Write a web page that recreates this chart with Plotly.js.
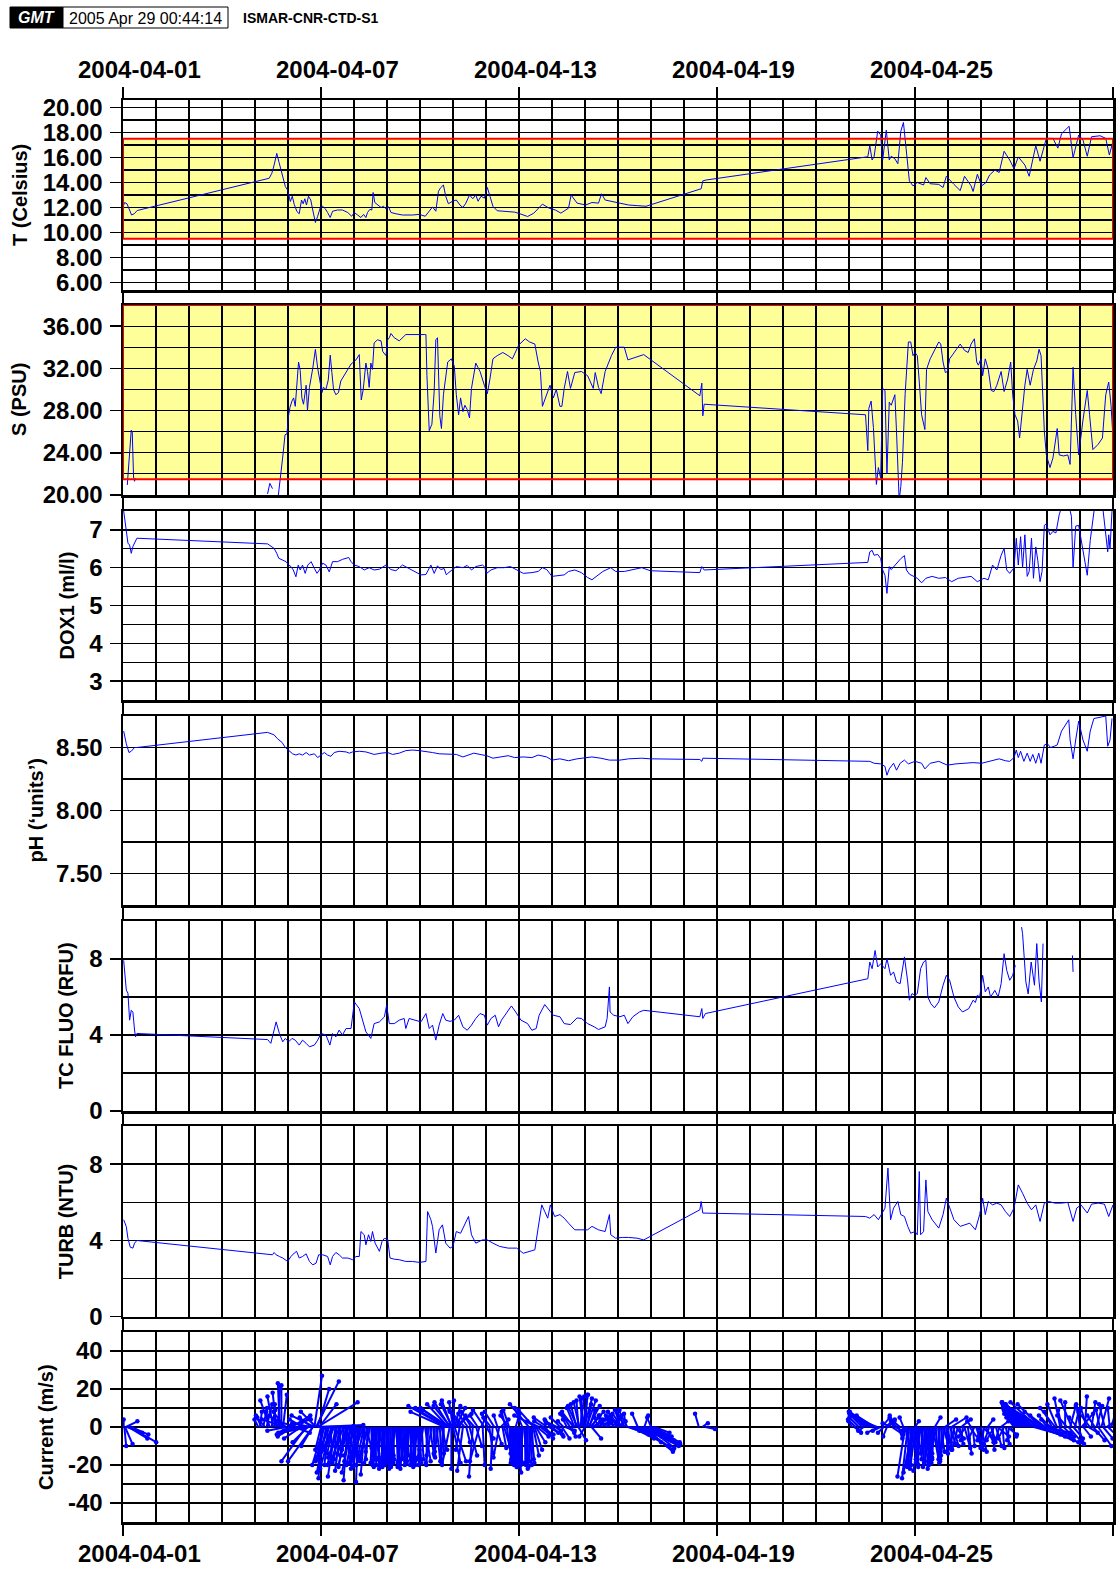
<!DOCTYPE html>
<html><head><meta charset="utf-8">
<script src="https://cdn.plot.ly/plotly-3.0.1.min.js"></script>
<style>html,body{margin:0;padding:0;background:#fff}#chart{width:1116px;height:1569px}</style>
</head><body><div id="chart"></div>
<script>
// ---- Data (day offset from 2004-04-01 00:00 UTC, value) ----
const startDate = '2004-04-01';
const endDate = '2004-05-01';
const tickDays = [0, 6, 12, 18, 24];
const tickLabels = ['2004-04-01','2004-04-07','2004-04-13','2004-04-19','2004-04-25'];
const curTickVals = [-40,-20,0,20,40];
const curTickText = ['-40','-20','0','20','40'];

const tempSeries = [[0.02,12.2],[0.05,12.4],[0.12,12.3],[0.19,11.8],[0.26,11.4],[0.34,11.5],[0.43,11.76],
[4.43,14.34],[4.51,14.74],[4.58,15.4],[4.66,16.33],[4.73,15.6],[4.81,14.74],[4.92,13.67],[4.99,13.4],[5.07,12.48],
[5.13,12.9],[5.19,12.24],[5.27,11.68],[5.34,11.5],[5.41,12.6],[5.46,12.3],[5.51,12.7],[5.56,12.2],[5.62,12.9],
[5.69,12.6],[5.75,11.8],[5.83,10.8],[5.9,11.3],[5.98,12.0],[6.05,12.1],[6.13,11.9],[6.2,11.6],[6.28,11.2],[6.35,11.7],
[6.5,11.8],[6.65,11.8],[6.81,11.6],[6.93,11.3],[7.01,11.6],[7.11,11.4],[7.21,11.2],[7.29,11.45],[7.36,11.2],[7.41,11.6],
[7.48,11.85],[7.54,11.8],[7.58,13.2],[7.63,12.4],[7.71,12.25],[7.82,12.0],[7.89,12.1],[7.97,11.9],[8.05,12.05],[8.12,11.6],
[8.27,11.5],[8.47,11.4],[8.77,11.4],[8.98,11.45],[9.16,11.3],[9.28,11.7],[9.38,12.05],[9.48,11.7],[9.56,13.3],[9.63,13.6],
[9.71,13.8],[9.78,12.9],[9.86,12.3],[9.97,12.48],[10.1,12.6],[10.21,12.2],[10.3,12.0],[10.39,12.35],[10.5,13.0],[10.6,12.7],
[10.69,13.0],[10.76,12.5],[10.85,12.9],[10.95,12.75],[11.04,13.6],[11.12,12.9],[11.21,12.1],[11.34,11.74],[11.6,11.68],
[11.87,11.63],[12.06,11.47],[12.26,11.28],[12.45,11.55],[12.71,12.27],[12.91,11.95],[13.1,11.8],[13.27,11.55],[13.5,11.95],
[13.58,13.0],[13.76,12.35],[14.02,12.2],[14.21,12.4],[14.41,12.35],[14.5,13.1],[14.61,12.6],[14.8,12.5],[15.06,12.35],
[15.32,12.2],[15.58,12.15],[15.85,12.1],[17.52,13.5],[17.57,14.13],[17.67,14.2],[22.57,16.06],[22.63,16.96],[22.7,15.8],
[22.76,16.06],[22.87,18.11],[22.96,17.8],[23.02,15.8],[23.13,18.19],[23.22,15.8],[23.28,16.1],[23.39,15.9],[23.48,15.5],
[23.57,18.1],[23.65,18.8],[23.74,16.5],[23.83,14.13],[23.94,13.73],[24.07,14.0],[24.26,13.8],[24.33,14.4],[24.46,13.9],
[24.72,13.85],[24.85,13.6],[24.95,14.5],[25.18,13.85],[25.37,13.35],[25.5,14.5],[25.7,13.73],[25.76,13.28],[25.89,14.66],
[26.02,13.73],[26.15,14.0],[26.26,14.6],[26.42,15.0],[26.55,14.8],[26.7,16.5],[26.87,15.8],[27.0,15.1],[27.13,16.05],
[27.33,15.4],[27.46,14.5],[27.66,16.95],[27.79,15.7],[27.85,16.35],[27.98,17.53],[28.18,17.53],[28.33,16.75],[28.44,17.9],
[28.67,18.5],[28.79,15.98],[28.96,17.8],[29.09,17.4],[29.22,16.1],[29.35,17.66],[29.61,17.74],[29.78,17.53],[29.89,16.2],[30.0,17.3]];

const salSeries = [[0.13,20.95],[0.2,23.95],[0.25,26.15],[0.28,26.0],[0.32,21.7],[0.35,21.3],[0.37,21.6],[0.4,null],
[4.38,20.1],[4.45,21.1],[4.53,20.6],[4.6,null],[4.69,19.5],[4.74,21.1],[4.84,23.6],[4.91,25.7],[4.97,25.8],[5.01,27.4],
[5.06,28.3],[5.12,28.9],[5.17,29.2],[5.22,28.4],[5.26,30.25],[5.32,32.6],[5.37,31.8],[5.42,29.2],[5.47,28.6],[5.55,30.4],
[5.59,28.0],[5.65,30.2],[5.75,32.0],[5.83,33.8],[5.9,32.0],[5.97,30.8],[6.03,29.7],[6.07,30.2],[6.15,30.0],[6.22,30.9],
[6.28,33.25],[6.33,31.6],[6.38,30.0],[6.45,29.5],[6.53,29.7],[6.6,30.8],[6.75,31.6],[6.91,32.4],[7.06,32.8],[7.16,33.3],
[7.22,29.0],[7.28,30.0],[7.36,32.5],[7.41,31.7],[7.46,30.2],[7.51,32.5],[7.56,31.9],[7.61,34.4],[7.71,34.7],[7.82,34.6],
[7.87,33.6],[7.94,33.3],[7.97,33.2],[8.02,34.7],[8.07,34.9],[8.12,35.3],[8.22,34.9],[8.37,34.6],[8.57,35.2],[9.13,35.2],
[9.18,35.2],[9.21,31.3],[9.26,27.7],[9.28,26.1],[9.36,26.7],[9.43,29.85],[9.48,34.7],[9.53,34.9],[9.6,27.5],[9.65,26.3],
[9.71,29.5],[9.78,31.4],[9.84,32.6],[9.95,32.9],[10.04,32.2],[10.1,29.5],[10.17,27.6],[10.23,29.2],[10.3,27.9],[10.36,28.5],
[10.43,28.1],[10.5,27.3],[10.56,30.1],[10.69,32.5],[10.82,31.7],[10.95,30.4],[11.04,29.6],[11.12,31.0],[11.21,32.9],
[11.34,33.2],[11.51,33.5],[11.67,33.2],[11.8,32.9],[11.99,34.2],[12.19,34.8],[12.32,34.5],[12.48,34.3],[12.58,32.6],
[12.65,31.7],[12.71,28.4],[12.84,29.5],[12.94,30.4],[13.04,29.2],[13.13,30.0],[13.24,28.4],[13.3,28.4],[13.37,30.1],
[13.47,31.7],[13.56,30.1],[13.69,31.6],[13.89,31.7],[14.08,31.3],[14.25,30.1],[14.31,31.6],[14.41,30.2],[14.49,29.6],
[14.61,31.7],[14.8,33.2],[14.93,34.0],[15.19,34.0],[15.3,32.8],[15.78,33.3],[17.48,29.4],[17.54,30.6],[17.57,27.5],
[17.61,28.6],[22.5,27.6],[22.57,24.2],[22.6,28.2],[22.67,28.9],[22.74,26.4],[22.83,21.0],[22.89,22.6],[22.96,21.6],
[23.02,30.1],[23.09,29.9],[23.15,22.0],[23.22,28.8],[23.28,28.5],[23.39,29.5],[23.44,26.0],[23.52,19.5],[23.57,20.8],
[23.62,23.1],[23.7,29.5],[23.8,34.5],[23.87,34.5],[23.94,33.2],[24.0,33.5],[24.07,33.2],[24.13,30.7],[24.2,27.6],
[24.3,26.2],[24.35,31.9],[24.46,32.9],[24.56,33.5],[24.72,34.5],[24.78,34.3],[24.85,32.6],[24.92,31.6],[24.98,31.7],
[25.05,32.9],[25.24,33.8],[25.37,34.3],[25.5,33.7],[25.61,33.5],[25.7,34.3],[25.8,34.8],[25.87,32.6],[25.92,32.3],
[26.0,32.9],[26.05,31.3],[26.13,32.9],[26.22,31.9],[26.31,29.9],[26.39,29.8],[26.48,30.4],[26.61,31.7],[26.7,29.8],
[26.81,31.0],[26.9,32.6],[26.96,29.5],[27.03,27.6],[27.11,27.0],[27.17,25.4],[27.26,28.5],[27.33,30.4],[27.4,31.9],
[27.49,30.4],[27.59,31.9],[27.69,32.7],[27.76,33.8],[27.82,33.2],[27.92,26.0],[27.98,23.8],[28.09,22.6],[28.18,23.5],
[28.31,26.3],[28.37,23.8],[28.5,23.7],[28.63,23.8],[28.7,22.9],[28.79,32.1],[28.87,27.6],[28.96,23.8],[29.09,27.1],
[29.22,29.9],[29.29,27.6],[29.39,24.3],[29.55,24.8],[29.68,25.4],[29.78,29.5],[29.87,30.7],[29.94,28.5],[30.0,25.4]];

const doxSeries = [[0.02,7.5],[0.1,7.0],[0.15,6.65],[0.2,6.6],[0.25,6.38],[0.3,6.56],[0.35,6.65],[0.42,6.78],
[4.38,6.63],[4.48,6.56],[4.58,6.51],[4.66,6.38],[4.72,6.25],[4.84,6.2],[4.94,6.16],[5.02,6.07],[5.09,6.03],[5.16,5.94],
[5.24,5.76],[5.31,6.07],[5.37,5.94],[5.44,6.07],[5.52,5.85],[5.6,6.07],[5.7,6.16],[5.8,5.98],[5.88,5.85],[5.95,5.94],
[6.05,6.12],[6.15,6.07],[6.25,5.89],[6.35,6.16],[6.5,6.16],[6.65,6.22],[6.84,6.27],[6.91,6.16],[7.01,6.07],[7.16,6.03],
[7.31,5.94],[7.46,6.0],[7.61,5.94],[7.77,5.96],[7.97,6.07],[8.12,5.95],[8.27,5.92],[8.47,6.07],[8.67,5.98],[8.88,5.89],
[9.03,5.81],[9.18,5.82],[9.33,6.07],[9.43,5.85],[9.53,6.05],[9.63,5.95],[9.73,5.98],[9.8,5.81],[9.84,5.85],[9.97,5.94],
[10.1,6.03],[10.3,6.0],[10.43,6.06],[10.56,5.94],[10.69,6.03],[10.89,6.07],[10.95,6.03],[11.02,5.85],[11.15,5.94],
[11.34,6.0],[11.54,6.0],[11.74,6.03],[11.93,5.94],[12.13,5.85],[12.39,5.87],[12.58,5.9],[12.71,6.0],[12.84,5.95],
[13.0,5.77],[13.17,5.79],[13.37,5.81],[13.5,5.9],[13.69,5.94],[13.89,5.87],[14.08,5.74],[14.21,5.68],[14.35,5.77],
[14.54,5.9],[14.78,6.0],[14.93,5.9],[15.19,5.9],[15.45,5.94],[15.72,6.0],[15.98,5.92],[17.48,5.87],[17.54,6.03],
[17.61,5.94],[22.57,6.14],[22.63,6.42],[22.7,6.46],[22.76,6.33],[22.87,6.35],[22.96,6.24],[23.02,5.94],[23.09,5.8],
[23.15,5.32],[23.22,6.03],[23.28,5.95],[23.39,6.07],[23.48,6.17],[23.57,6.24],[23.68,6.32],[23.74,5.94],[23.83,5.83],
[23.94,5.77],[24.07,5.72],[24.2,5.6],[24.33,5.72],[24.52,5.77],[24.72,5.72],[24.92,5.74],[25.11,5.63],[25.31,5.72],
[25.5,5.74],[25.7,5.77],[25.89,5.63],[26.09,5.72],[26.22,5.68],[26.35,6.07],[26.48,5.94],[26.61,6.33],[26.7,6.51],
[26.78,5.94],[26.87,5.85],[27.0,6.0],[27.07,6.78],[27.13,6.07],[27.2,6.82],[27.26,6.0],[27.33,6.87],[27.4,5.77],
[27.46,5.9],[27.53,6.78],[27.59,5.72],[27.66,6.55],[27.72,6.2],[27.79,5.63],[27.85,5.9],[27.92,7.12],[27.98,7.16],
[28.09,6.87],[28.18,6.96],[28.27,6.92],[28.37,7.4],[28.44,7.6],[28.6,7.9],[28.74,7.36],[28.79,6.0],[28.87,7.1],
[28.96,7.12],[29.09,6.42],[29.22,5.8],[29.31,6.72],[29.39,7.36],[29.44,7.6],[29.65,7.9],[29.84,6.42],[29.87,6.87],
[29.91,6.5],[29.97,7.5],[30.0,7.6]];

const phSeries = [[0.02,8.63],[0.1,8.53],[0.18,8.46],[0.25,8.47],[0.35,8.5],[0.42,8.5],[4.38,8.62],[4.58,8.6],[4.68,8.57],
[4.82,8.54],[4.92,8.5],[5.04,8.47],[5.14,8.45],[5.24,8.44],[5.34,8.45],[5.44,8.44],[5.55,8.46],[5.65,8.44],[5.8,8.45],
[5.9,8.42],[6.0,8.44],[6.1,8.46],[6.2,8.44],[6.3,8.43],[6.4,8.46],[6.55,8.47],[6.76,8.465],[6.86,8.455],[6.96,8.465],
[7.16,8.47],[7.36,8.465],[7.51,8.45],[7.61,8.445],[7.82,8.455],[8.02,8.46],[8.17,8.445],[8.37,8.455],[8.57,8.475],
[8.77,8.48],[8.98,8.475],[9.18,8.47],[9.38,8.46],[9.58,8.45],[9.78,8.45],[10.1,8.445],[10.3,8.425],[10.5,8.44],
[10.63,8.455],[10.82,8.445],[11.02,8.435],[11.21,8.415],[11.41,8.425],[11.67,8.435],[11.87,8.42],[12.13,8.425],
[12.39,8.42],[12.58,8.44],[12.84,8.425],[13.0,8.4],[13.24,8.41],[13.5,8.395],[13.76,8.41],[14.02,8.42],[14.21,8.425],
[14.48,8.415],[14.74,8.4],[15.06,8.4],[15.32,8.41],[15.72,8.415],[15.98,8.41],[17.48,8.405],[17.54,8.39],[17.57,8.415],
[22.5,8.39],[22.63,8.39],[22.76,8.375],[22.96,8.37],[23.09,8.35],[23.15,8.28],[23.22,8.33],[23.35,8.375],[23.44,8.32],
[23.55,8.375],[23.68,8.4],[23.8,8.37],[24.0,8.39],[24.2,8.375],[24.3,8.33],[24.46,8.375],[24.72,8.39],[24.98,8.36],
[25.24,8.37],[25.5,8.375],[25.76,8.38],[26.02,8.375],[26.29,8.39],[26.55,8.41],[26.74,8.395],[26.87,8.39],[27.0,8.42],
[27.07,8.48],[27.13,8.42],[27.2,8.47],[27.3,8.39],[27.4,8.455],[27.49,8.39],[27.57,8.445],[27.66,8.375],[27.75,8.455],
[27.82,8.375],[27.92,8.52],[28.01,8.53],[28.11,8.5],[28.22,8.51],[28.31,8.52],[28.44,8.63],[28.57,8.68],[28.66,8.72],
[28.7,8.56],[28.79,8.41],[28.87,8.56],[28.96,8.71],[29.09,8.56],[29.22,8.47],[29.31,8.63],[29.42,8.73],[29.61,8.74],
[29.78,8.75],[29.84,8.51],[29.91,8.56],[29.97,8.73]];

const fluoSeries = [[0.02,7.93],[0.1,6.36],[0.15,6.2],[0.2,4.78],[0.25,5.3],[0.3,5.2],[0.35,4.26],[0.38,3.9],[0.42,4.08],
[4.38,3.76],[4.48,3.56],[4.56,4.08],[4.64,4.69],[4.74,4.08],[4.84,3.64],[4.92,3.82],[5.02,3.64],[5.12,3.82],[5.22,3.73],
[5.34,3.47],[5.44,3.73],[5.55,3.56],[5.65,3.38],[5.8,3.47],[5.9,3.73],[6.0,4.08],[6.15,4.0],[6.27,3.47],[6.35,4.08],
[6.45,3.9],[6.55,4.26],[6.65,4.0],[6.76,4.34],[6.91,4.34],[7.01,5.74],[7.16,5.39],[7.26,4.78],[7.36,4.17],[7.51,3.82],
[7.61,4.6],[7.77,4.69],[7.92,4.95],[7.99,5.57],[8.07,4.6],[8.22,4.6],[8.37,4.78],[8.52,4.87],[8.57,4.34],[8.67,4.87],
[8.82,4.78],[9.03,4.69],[9.18,5.13],[9.28,4.34],[9.38,4.52],[9.48,3.73],[9.58,4.52],[9.69,5.13],[9.78,4.78],[9.91,4.72],
[10.04,4.78],[10.17,5.04],[10.3,4.43],[10.43,4.25],[10.56,4.52],[10.69,4.87],[10.82,5.13],[10.95,5.04],[11.04,4.52],
[11.15,4.87],[11.28,5.04],[11.38,4.43],[11.47,4.78],[11.6,5.13],[11.77,5.53],[11.9,5.21],[12.06,4.78],[12.26,4.6],
[12.39,4.25],[12.52,4.34],[12.61,5.04],[12.78,5.6],[12.91,5.3],[13.04,5.04],[13.24,4.96],[13.37,4.6],[13.56,4.55],
[13.76,4.9],[13.89,4.87],[14.08,4.6],[14.28,4.43],[14.41,4.29],[14.61,4.43],[14.67,4.87],[14.74,6.53],[14.76,5.21],
[14.87,5.04],[15.06,4.96],[15.19,5.04],[15.3,4.6],[15.45,4.96],[15.65,5.21],[15.78,5.3],[17.48,4.96],[17.54,5.39],
[17.57,4.87],[17.65,5.13],[22.57,6.96],[22.63,7.84],[22.7,7.49],[22.79,8.45],[22.87,7.58],[22.96,7.75],[23.09,7.49],
[23.15,8.02],[23.26,7.14],[23.35,7.32],[23.44,6.79],[23.55,6.7],[23.68,8.11],[23.78,6.79],[23.83,5.83],[23.91,6.18],
[24.0,6.09],[24.07,6.18],[24.17,7.49],[24.26,7.84],[24.33,7.93],[24.39,6.0],[24.48,5.65],[24.59,5.43],[24.72,5.74],
[24.85,6.62],[24.95,7.14],[25.05,6.88],[25.18,6.0],[25.31,5.48],[25.44,5.21],[25.63,5.39],[25.76,5.83],[25.83,5.71],
[25.89,6.09],[25.96,6.0],[26.05,7.14],[26.13,6.27],[26.22,6.53],[26.29,6.0],[26.42,6.35],[26.52,6.0],[26.61,6.7],
[26.7,8.28],[26.78,7.4],[26.87,6.88],[26.96,7.14],[27.04,7.67],[27.1,null],[27.23,9.68],[27.26,9.33],[27.36,6.79],
[27.43,6.16],[27.52,7.84],[27.62,6.62],[27.69,8.81],[27.76,6.79],[27.83,5.74],[27.88,8.81],[27.95,null],[28.77,8.19],
[28.79,7.32]];

const turbSeries = [[0.02,5.08],[0.1,4.72],[0.15,4.1],[0.22,3.64],[0.3,3.59],[0.35,3.85],[0.42,3.99],[4.53,3.24],[4.58,3.36],
[4.64,3.24],[4.74,3.15],[4.84,3.07],[4.99,2.89],[5.09,3.15],[5.19,3.33],[5.26,3.42],[5.34,3.07],[5.44,3.15],[5.55,3.29],
[5.65,2.89],[5.75,2.71],[5.85,2.8],[5.93,3.24],[6.05,3.24],[6.2,3.15],[6.28,2.71],[6.35,3.15],[6.45,3.36],[6.55,3.24],
[6.65,3.07],[6.81,3.07],[6.96,2.98],[7.06,3.15],[7.16,3.15],[7.21,4.46],[7.31,4.29],[7.36,3.76],[7.44,4.29],[7.51,3.94],
[7.56,4.46],[7.64,3.85],[7.77,3.42],[7.85,3.94],[7.92,4.1],[8.02,4.06],[8.09,3.07],[8.22,3.01],[8.37,2.98],[8.57,2.89],
[8.77,2.89],[8.98,2.84],[9.18,2.89],[9.23,5.51],[9.33,5.08],[9.38,4.72],[9.48,3.33],[9.58,4.55],[9.68,4.81],[9.78,3.85],
[9.86,3.68],[9.91,3.59],[10.0,3.68],[10.1,4.46],[10.23,4.37],[10.36,4.81],[10.47,5.25],[10.56,4.29],[10.69,3.85],
[10.89,4.02],[11.04,4.02],[11.21,3.85],[11.41,3.68],[11.67,3.59],[11.93,3.59],[12.13,3.32],[12.32,3.41],[12.48,3.5],
[12.58,4.64],[12.69,5.86],[12.78,5.51],[12.87,5.16],[12.95,5.86],[13.08,5.25],[13.24,5.35],[13.37,5.16],[13.5,4.9],
[13.69,4.55],[13.89,4.55],[14.08,4.55],[14.21,4.73],[14.41,4.55],[14.61,4.46],[14.74,5.35],[14.78,4.29],[14.93,4.11],
[15.13,4.15],[15.32,4.15],[15.58,4.11],[15.78,4.02],[17.48,5.6],[17.52,6.04],[17.57,5.43],[22.5,5.25],[22.63,5.16],
[22.76,5.35],[22.89,5.08],[22.99,5.35],[23.09,5.69],[23.18,7.79],[23.26,5.08],[23.35,5.69],[23.48,6.04],[23.57,5.35],
[23.68,5.25],[23.78,4.73],[23.87,4.37],[24.0,4.46],[24.07,4.29],[24.13,7.61],[24.17,4.29],[24.26,4.46],[24.33,7.17],
[24.39,5.51],[24.52,5.08],[24.72,4.64],[24.85,5.35],[24.95,6.21],[25.05,5.69],[25.18,5.08],[25.37,4.73],[25.5,4.81],
[25.66,4.9],[25.83,4.55],[25.96,5.35],[26.05,6.21],[26.13,5.35],[26.22,6.04],[26.35,5.86],[26.48,5.95],[26.61,5.86],
[26.74,5.51],[26.87,5.25],[27.0,5.69],[27.13,6.91],[27.26,6.47],[27.4,5.95],[27.53,5.6],[27.66,5.86],[27.79,4.99],
[27.92,5.95],[28.05,6.04],[28.24,5.95],[28.44,5.95],[28.63,5.99],[28.79,4.99],[28.9,5.69],[29.03,5.86],[29.22,5.43],
[29.35,5.9],[29.55,5.95],[29.74,5.9],[29.87,5.25],[30.0,5.86]];

// Current sticks: [day, east component, north component]
const currentSticks = [
[0.02,0,4],[0.04,1,-10],[0.06,4,-9],[0.09,6,3],[0.12,8,-3],[0.16,10,-6],[0.2,14,-8],[0.25,9,-4],
[4.10,-2,4],[4.15,1,8],[4.20,-3,6],[4.25,2,10],[4.30,-4,5],[4.35,3,12],[4.40,-1,8],[4.45,-5,14],[4.50,2,9],[4.55,-3,16],
[4.60,0,12],[4.65,-2,18],[4.70,1,21],[4.75,-1,23],[4.80,0,22],[4.85,2,17],[4.90,-6,8],[4.95,-9,6],[4.90,-12,4],[4.95,-10,-2],
[5.00,12,4],[5.05,-6,-3],[5.10,10,6],[5.15,-8,-5],[5.20,8,-3],[5.25,-10,3],[5.30,6,5],[5.35,-12,-4],[5.40,-9,-6],[5.45,-7,4],
[5.50,-11,-2],[5.55,-13,-18],[5.60,-8,-8],[5.65,-15,-3],[5.70,-6,5],[5.75,-13,-18],[5.80,4,27],[5.85,12,24],[5.90,21,13],[5.95,9,12],
[5.85,-8,8],[5.80,-12,6],[5.90,6,20],[5.75,-6,-10],[5.70,-10,2],[5.90,24,1],[5.95,18,0.5],
[6.00,-3,-12],[6.04,-2,-27],[6.08,-6,-20],[6.12,2,-8],[6.16,-5,-24],[6.20,-4,-15],[6.24,-7,-18],[6.28,1,-10],[6.32,-6,-22],
[6.36,-3,-14],[6.40,-8,-17],[6.44,-4,-26],[6.48,-5,-20],[6.52,2,-12],[6.56,-6,-16],[6.60,-3,-23],[6.64,4,-13],[6.68,-7,-19],
[6.72,3,-8],[6.76,-4,-21],[6.80,-2,-28],[6.84,-6,-14],[6.88,-3,-18],[6.92,-5,-24],[6.96,2,-11],[7.00,-4,-20],[7.04,-6,-15],
[7.08,-3,-22],[7.12,-1,-29],[7.16,-5,-19],[7.20,-4,-21],[7.24,2,-13],[7.28,-6,-17],[7.32,-2,-25],[7.36,3,-11],[7.40,-4,-18],
[7.44,-5,-16],[7.48,-3,-19],
[6.02,-1,-18],[6.10,-4,-16],[6.22,-2,-20],[6.34,-5,-12],[6.46,-1,-17],[6.58,-4,-19],[6.70,-2,-15],[6.82,-5,-20],[6.94,-1,-16],
[7.06,-3,-18],[7.18,-2,-14],[7.30,-4,-20],[7.42,-1,-17],
[7.52,1,-15],[7.56,-1,-19],[7.60,0,-21],[7.64,2,-16],[7.68,-2,-20],[7.72,1,-18],[7.76,0,-22],[7.80,-1,-17],[7.84,2,-19],
[7.88,0,-14],[7.92,-2,-21],[7.96,1,-18],[8.00,-1,-20],[8.04,0,-16],[8.08,2,-19],[8.12,-1,-22],[8.16,1,-17],[8.20,0,-15],
[8.24,-2,-20],[8.28,1,-18],[8.32,0,-21],[8.36,2,-16],[8.40,-1,-19],[8.44,0,-17],[8.48,1,-20],[8.52,-2,-22],[8.56,0,-18],
[8.60,1,-15],[8.64,-1,-19],[8.68,2,-21],[8.72,0,-17],[8.76,-1,-20],[8.80,1,-16],[8.84,0,-18],[8.88,-2,-19],[8.92,1,-15],
[8.96,0,-20],[9.00,-1,-17],
[7.54,0,-18],[7.62,1,-20],[7.70,-1,-17],[7.78,2,-19],[7.86,0,-21],[7.94,-1,-18],[8.02,1,-19],[8.10,0,-17],[8.18,-1,-21],
[8.26,2,-18],[8.34,0,-19],[8.42,-1,-20],[8.50,1,-17],[8.58,0,-19],[8.66,-1,-18],[8.74,2,-20],[8.82,0,-17],[8.90,-1,-18],[8.98,1,-19],
[9.05,1,-17],[9.10,-2,-12],[9.15,3,-18],[9.20,0,-15],[9.25,-1,-20],[9.30,2,-14],[9.35,-3,-19],[9.40,1,-16],[9.45,0,-13],
[9.50,2,-18],[9.55,-2,-15],[9.60,1,-19],[9.65,3,-12],[9.70,-1,-17],[9.72,0,-14],
[9.75,-18,8],[9.78,-16,10],[9.80,-20,11],[9.83,-13,9],[9.85,-11,12],[9.88,-15,10],[9.90,-8,13],[9.93,-9,11],[9.95,-5,14],
[9.98,-6,12],[10.00,-2,13],[10.03,0,14],[10.05,3,11],[10.08,5,10],[10.10,8,7],
[9.95,0,-22],[10.00,4,-19],[9.90,-4,-20],[10.05,6,-18],
[10.15,4,6],[10.20,-2,-12],[10.25,-6,8],[10.30,-3,-23],[10.35,-8,9],[10.40,2,-8],[10.45,-5,7],[10.50,4,-15],[10.55,-3,5],
[10.60,-2,-26],[10.65,-7,8],[10.70,3,-10],[10.75,-4,6],[10.80,-5,-18],[10.85,2,4],[10.90,1,-20],[10.95,-6,9],[11.00,4,-6],
[11.05,-3,7],[11.10,2,-14],[11.15,-4,5],[11.20,-1,-22],[11.25,-5,8],[11.30,3,-9],[11.35,-2,6],[11.40,-3,-16],[11.45,4,4],[11.50,2,-11],
[11.55,3,-10],[11.59,-2,8],[11.63,2,-14],[11.67,-4,6],[11.71,1,-17],[11.75,0,-19],[11.79,2,-20],[11.83,-1,-18],[11.87,1,-21],
[11.91,0,-19],[11.95,2,-24],[11.99,-1,-20],[12.03,1,-19],[12.07,0,-18],[12.11,-1,-20],[12.15,2,-22],[12.19,0,-19],[12.23,1,-21],
[12.27,-1,-20],[12.31,0,-18],[12.35,2,-19],[12.39,1,-17],[12.43,3,-15],[12.47,4,-12],[12.51,5,-8],[12.55,6,-5],
[11.77,1,-19],[11.85,0,-20],[11.93,1,-18],[12.01,-1,-21],[12.09,0,-19],[12.17,1,-20],[12.25,0,-18],[12.33,1,-20],
[11.70,-3,9],[11.90,2,7],[12.10,-4,10],[12.30,-10,12],[12.45,-8,9],[12.55,-12,6],[12.60,-6,3],[12.65,5,-4],
[12.70,6,-4],[12.75,-5,3],[12.80,4,-6],[12.85,-7,5],[12.90,5,-3],[12.95,-3,4],[13.00,6,-5],[13.05,-4,2],[13.10,3,-2],
[13.15,-6,3],[13.20,2,-4],[13.25,-5,5],[13.30,4,-6],[13.35,-3,3],[13.40,5,-2],[13.45,-2,4],[13.50,3,-3],[13.55,-4,6],[13.60,2,-5],
[13.65,-6,8],[13.68,-4,10],[13.71,-8,7],[13.74,-3,12],[13.77,-5,11],[13.80,-1,14],[13.83,-3,13],[13.86,2,16],[13.89,0,15],
[13.92,3,17],[13.95,-2,16],[13.98,4,15],[14.01,1,17],[14.04,5,14],[14.07,2,12],[14.10,6,11],[14.13,3,9],[14.16,7,8],
[14.19,4,6],[14.22,8,5],[14.25,5,4],[14.30,9,3],[13.80,4,-7],[14.00,-3,-5],[14.20,5,-6],
[14.35,2,3],[14.40,-2,5],[14.45,3,4],[14.50,-1,6],[14.55,4,3],[14.60,-3,5],[14.65,2,2],[14.70,1,4],[14.75,-2,6],[14.80,3,3],
[14.85,-1,5],[14.90,2,4],[14.95,0,2],[15.00,4,3],
[15.00,-4,6],[15.04,-6,8],[15.08,-3,9],[15.12,-5,7],[15.16,-2,9],[15.20,-4,8],[15.24,-1,7],[15.28,-3,6],
[15.30,6,-2],[15.35,10,-4],[15.40,12,-6],[15.45,15,-5],[15.50,14,-8],[15.55,18,-7],[15.60,16,-10],[15.65,20,-9],[15.70,17,-12],
[15.75,19,-10],[15.80,15,-13],[15.85,18,-9],[15.90,14,-11],[15.95,16,-8],[16.00,12,-7],[16.05,10,-5],[16.10,8,-3],
[15.60,-3,7],[15.80,2,6],[16.00,-2,5],
[17.45,-2,7],[17.55,3,2],[17.65,5,-1],
[22.10,-2,3],[22.15,3,-2],[22.20,-4,4],[22.25,2,-3],[22.30,-5,5],[22.35,1,2],[22.40,-6,6],[22.45,-3,-2],[22.50,-8,7],
[22.55,-5,4],[22.60,-10,8],[22.65,-7,5],[22.70,-12,7],[22.75,-9,6],[22.80,-14,8],[22.85,-10,4],[22.90,-6,-3],[22.95,-4,-2],
[23.00,4,5],[23.05,-3,-3],[23.10,5,4],[23.15,-2,-5],[23.20,3,3],[23.25,-4,2],[23.30,6,-4],[23.35,-2,6],[23.40,4,-2],
[23.45,-3,3],[23.50,2,-6],[23.55,-5,4],[23.60,3,-3],[23.65,-2,5],[23.70,4,-2],
[23.70,-4,-26],[23.74,2,-15],[23.78,-3,-27],[23.82,-1,-21],[23.86,3,-12],[23.90,-2,-19],[23.94,-5,-24],[23.98,1,-18],[24.02,-3,-22],
[24.06,2,-14],[24.10,0,-20],[24.14,-2,-17],[24.18,-4,-23],[24.22,1,-19],[24.26,3,-15],[24.30,-1,-21],[24.34,2,-18],[24.38,-3,-13],
[24.42,0,-20],[24.46,1,-16],[24.50,-2,-22],[24.54,3,-17],[24.58,-1,-14],[24.62,2,-19],[24.66,-3,-12],[24.70,1,-18],[24.74,0,-16],
[24.78,2,-13],[24.82,-1,-17],[24.86,3,-11],[24.90,-2,-15],[24.94,1,-14],[24.98,2,-10],[25.02,-1,-13],[25.06,3,-9],[25.10,0,-12],
[23.88,0,-20],[23.96,-2,-18],[24.04,1,-21],[24.12,-1,-19],[24.20,0,-17],[24.28,2,-20],[24.36,-1,-18],[24.44,1,-19],[24.52,0,-17],
[24.00,2,3],[24.60,3,5],[24.90,6,4],[25.10,8,5],
[25.15,3,-10],[25.20,-2,-8],[25.25,4,-6],[25.30,-3,-12],[25.35,2,-9],[25.40,5,4],[25.45,-1,-7],[25.50,3,-11],[25.55,-4,-5],
[25.60,2,-14],[25.65,6,-8],[25.70,-2,3],[25.75,1,-10],[25.80,-3,-6],[25.85,4,-12],[25.90,2,-9],[25.95,-1,-7],[26.00,3,-13],
[26.05,5,-5],[26.10,-2,-11],[26.15,4,-8],[26.20,3,4],[26.25,-3,-9],[26.30,2,-6],[26.35,1,-12],[26.40,-4,-7],[26.45,3,-10],
[26.50,6,-5],[26.55,-2,-8],[26.60,4,3],[26.65,1,-11],[26.70,-3,-6],[26.75,2,-9],[26.80,5,-4],[26.85,-1,-7],[26.90,3,-5],
[27.00,-4,5],[27.05,-6,7],[27.10,-5,6],[27.15,-8,9],[27.20,-7,8],[27.25,-10,10],[27.30,-9,9],[27.35,-12,12],[27.40,-11,11],
[27.45,-14,13],[27.50,-13,12],[27.55,-16,13],[27.60,-15,12],[27.65,-17,11],[27.70,-14,13],[27.75,-16,10],[27.80,-12,12],
[27.85,-15,9],[27.90,-10,8],[27.95,-8,6],
[27.60,14,-4],[27.70,18,-6],[27.80,20,-8],[27.90,16,-5],[28.00,12,-3],
[28.00,-3,4],[28.05,5,-3],[28.10,-6,6],[28.15,-4,8],[28.20,6,-5],[28.25,-8,10],[28.30,-5,12],[28.35,8,-7],[28.40,-3,15],
[28.45,-2,9],[28.50,4,-4],[28.55,0,13],[28.60,-5,6],[28.65,7,-8],[28.70,3,11],[28.75,-6,14],[28.80,5,-6],[28.85,2,9],
[28.90,-4,5],[28.95,3,-9],[29.00,-2,12],[29.05,6,7],[29.10,4,-5],[29.15,1,16],[29.20,-3,10],[29.25,5,-3],[29.30,-6,8],
[29.35,2,13],[29.40,6,-7],[29.45,-4,6],[29.50,3,11],[29.55,7,-10],[29.60,-2,9],[29.65,4,15],[29.70,5,-6],[29.75,-3,12],
[29.80,6,4],[29.85,8,-8],[29.90,-1,10],[29.95,2,7]];

// ---- Layout geometry ----
const W = 1116, H = 1569, ML = 123, MR = 3;
const panelPx = [[100,290],[305,495],[511,700],[716,905],[921,1111],[1126,1316.5],[1332,1522]];
const DAY = 86400000;
const T0 = Date.UTC(2004,3,1);
function toDate(day){ return new Date(T0 + Math.round(day*DAY)).toISOString().slice(0,19).replace('T',' '); }
function dom(i){ return [1 - panelPx[i][1]/H, 1 - panelPx[i][0]/H]; }
function px2x(p){ return (p - ML)/(W - ML - MR); }
function py2y(p){ return 1 - p/H; }

const BLUE = '#0000ff';
const FONT = 'Liberation Sans, Arial, Helvetica, sans-serif';

function lineTrace(series, k){
  return {type:'scatter', mode:'lines', x: series.map(p=>toDate(p[0])), y: series.map(p=>p[1]),
    xaxis: k===1?'x':'x'+k, yaxis: k===1?'y':'y'+k, line:{color:BLUE,width:1}, hoverinfo:'skip', connectgaps:false};
}

const traces = [lineTrace(tempSeries,1), lineTrace(salSeries,2), lineTrace(doxSeries,3), lineTrace(phSeries,4),
  lineTrace(fluoSeries,5), lineTrace(turbSeries,6)];

// current sticks: equal pixel scale for both components
const yRangeCur = [-50,50];
const curPxPerUnit = (panelPx[6][1]-panelPx[6][0])/(yRangeCur[1]-yRangeCur[0]);
const pxPerDay = (W-ML-MR)/30;
const daysPerUnit = curPxPerUnit/pxPerDay;
const sx=[], sy=[], tx=[], ty=[];
currentSticks.forEach(s=>{
  const tip = s[0] + s[1]*daysPerUnit;
  sx.push(toDate(s[0]), toDate(tip), null); sy.push(0, s[2], null);
  tx.push(toDate(tip)); ty.push(s[2]);
});
traces.push({type:'scatter',mode:'lines',x:sx,y:sy,xaxis:'x7',yaxis:'y7',line:{color:BLUE,width:2},hoverinfo:'skip'});
traces.push({type:'scatter',mode:'markers',x:tx,y:ty,xaxis:'x7',yaxis:'y7',marker:{color:BLUE,size:4.5,symbol:'circle'},hoverinfo:'skip'});

const tickFont = {family:FONT, size:24, color:'#000', weight:'bold'};
function xAxis(i){
  const a = {type:'date', range:[startDate,endDate], anchor: i===1?'y':'y'+i,
    tick0:startDate, dtick:6*DAY, tickformat:'%Y-%m-%d',
    ticks:'outside', ticklen:11, tickwidth:1.5, tickcolor:'#000',
    showline:true, linewidth:2.5, linecolor:'#000', mirror:'ticks',
    showgrid:true, gridcolor:'#000', gridwidth:1.2,
    minor:{tick0:startDate, dtick:DAY, showgrid:true, gridcolor:'#000', gridwidth:1.2},
    zeroline:false, showticklabels:false, fixedrange:true};
  if(i===1){ a.side='top'; }
  if(i>1) a.matches='x';
  return a;
}
function yAxis(i, range, dtick, minor, fmt){
  return {domain:dom(i-1), range:range, anchor: i===1?'x':'x'+i, tick0:0, dtick:dtick, tickformat:fmt,
    ticks:'outside', ticklen:11, tickwidth:1.5, tickcolor:'#000', ticklabelstandoff:2,
    showline:true, linewidth:2.5, linecolor:'#000', mirror:true,
    showgrid:true, gridcolor:'#000', gridwidth:1.2,
    minor:{tick0:0, dtick:minor, showgrid:true, gridcolor:'#000', gridwidth:1.2},
    zeroline:false, tickfont:tickFont, fixedrange:true};
}

const yCur = yAxis(7,yRangeCur,20,10,'d');
yCur.tickmode = 'array'; yCur.tickvals = curTickVals; yCur.ticktext = curTickText;

const layout = {
  width:W, height:H, margin:{l:ML, r:MR, t:0, b:0, pad:0},
  paper_bgcolor:'#fff', plot_bgcolor:'#fff', showlegend:false,
  font:{family:FONT, color:'#000'},
  xaxis:xAxis(1), xaxis2:xAxis(2), xaxis3:xAxis(3), xaxis4:xAxis(4), xaxis5:xAxis(5), xaxis6:xAxis(6), xaxis7:xAxis(7),
  yaxis: yAxis(1,[5.4,20.6],2,1,'.2f'),
  yaxis2:yAxis(2,[20,38],4,2,'.2f'),
  yaxis3:yAxis(3,[2.5,7.5],1,0.5,'d'),
  yaxis4:yAxis(4,[7.25,8.75],0.5,0.25,'.2f'),
  yaxis5:yAxis(5,[0,10],4,2,'d'),
  yaxis6:yAxis(6,[0,10],4,2,'d'),
  yaxis7:yCur,
  shapes:[
    {type:'rect', xref:'x', yref:'y', x0:startDate, x1:endDate, y0:9.5, y1:17.5, fillcolor:'#ffff99', line:{width:0}, layer:'below'},
    {type:'rect', xref:'x', yref:'y', x0:startDate, x1:endDate, y0:9.5, y1:17.5, fillcolor:'rgba(0,0,0,0)', line:{color:'#ff0000',width:2}, layer:'above'},
    {type:'rect', xref:'x2', yref:'y2', x0:startDate, x1:endDate, y0:21.5, y1:38, fillcolor:'#ffff99', line:{width:0}, layer:'below'},
    {type:'rect', xref:'x2', yref:'y2', x0:startDate, x1:endDate, y0:21.5, y1:38, fillcolor:'rgba(0,0,0,0)', line:{color:'#ff0000',width:2}, layer:'above'},
    {type:'rect', xref:'paper', yref:'paper', x0:px2x(10), x1:px2x(63), y0:py2y(28), y1:py2y(7), fillcolor:'#000', line:{color:'#000',width:1}},
    {type:'rect', xref:'paper', yref:'paper', x0:px2x(63), x1:px2x(228), y0:py2y(28), y1:py2y(7), fillcolor:'#fff', line:{color:'#000',width:1}}
  ],
  annotations:[
    {xref:'paper',yref:'paper',x:px2x(36.5),y:py2y(17.5),text:'<i><b>GMT</b></i>',showarrow:false,font:{family:FONT,size:16,color:'#fff'},xanchor:'center',yanchor:'middle'},
    {xref:'paper',yref:'paper',x:px2x(145.5),y:py2y(18),text:'2005 Apr 29 00:44:14',showarrow:false,font:{family:FONT,size:16,color:'#000'},xanchor:'center',yanchor:'middle'},
    {xref:'paper',yref:'paper',x:px2x(241),y:py2y(17.5),text:'ISMAR-CNR-CTD-S1',showarrow:false,font:{family:FONT,size:14,color:'#000',weight:'bold'},xanchor:'left',yanchor:'middle'}
  ]
};

// date labels, centred on the middle of each labelled day (top and bottom)
tickDays.forEach((d,i)=>{
  [['x',69],['x7',1553]].forEach(([xr,py])=>{
    layout.annotations.push({xref:xr, yref:'paper', x:toDate(d+0.5), y:py2y(py), text:tickLabels[i], showarrow:false,
      xanchor:'center', yanchor:'middle', font:{family:FONT,size:24,color:'#000',weight:'bold'}});
  });
});

const yTitles = [['T (Celsius)',20],['S (PSU)',19],['DOX1 (ml/l)',66],['pH (‘units’)',35],['TC FLUO (RFU)',66],['TURB (NTU)',66],['Current (m/s)',46]];
yTitles.forEach((t,i)=>{
  layout.annotations.push({xref:'paper',yref:'paper',x:px2x(t[1]),y:py2y((panelPx[i][0]+panelPx[i][1])/2),
    text:t[0],textangle:-90,showarrow:false,xanchor:'center',yanchor:'middle',
    font:{family:FONT,size:20,color:'#000',weight:'bold'}});
});

Plotly.newPlot('chart', traces, layout, {displayModeBar:false, staticPlot:true});
</script></body></html>
